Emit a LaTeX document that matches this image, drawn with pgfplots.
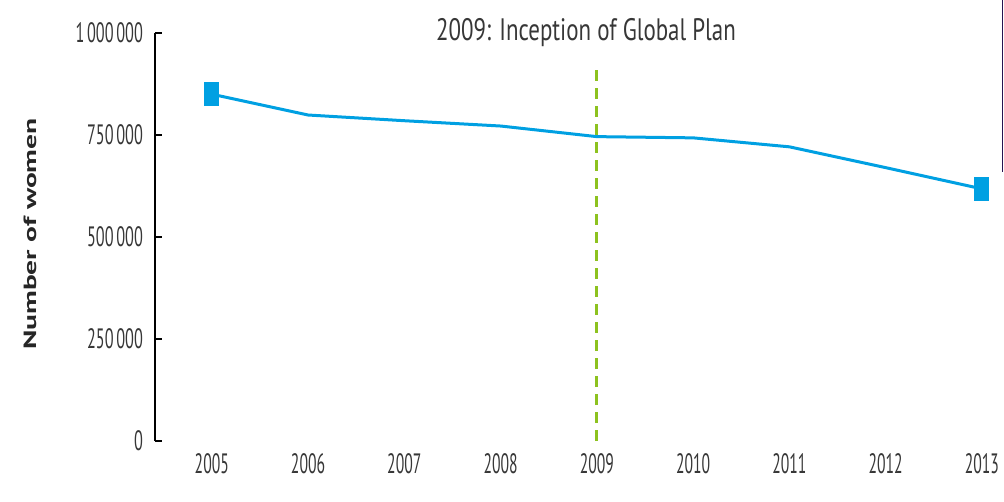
\documentclass[border=0pt]{standalone}
\usepackage{fontspec}
\setmainfont{PT Sans}
\usepackage{pgfplots}
\pgfplotsset{compat=1.18}
\definecolor{lineblue}{RGB}{0,160,226}
\definecolor{plangreen}{RGB}{141,194,31}
\definecolor{labelgray}{RGB}{55,55,55}
\definecolor{edgeline}{RGB}{40,20,80}
\begin{document}
\begin{tikzpicture}
\useasboundingbox (0,0) rectangle (1004pt,501pt);
\begin{axis}[
  at={(155pt,60pt)}, anchor=south west,
  scale only axis,
  width=851pt, height=408pt,
  xmin=2004.41, xmax=2013.25,
  ymin=0, ymax=1000000,
  scaled ticks=false,
  axis lines=left,
  axis line style={-, line width=1.6pt, black},
  x axis line style={draw=none},
  xtick={2005,2006,2007,2008,2009,2010,2011,2012,2013},
  xticklabels={2005,2006,2007,2008,2009,2010,2011,2012,2013},
  ytick={0,250000,500000,750000,1000000},
  yticklabels={0,250\,000,500\,000,750\,000,1\,000\,000},
  xtick style={draw=none},
  ytick style={line width=1.6pt, black},
  tick align=inside,
  major tick length=7pt,
  yticklabel style={inner sep=0pt, anchor=east, xshift=-12pt, xscale=0.58,
    font=\fontsize{28}{30}\selectfont, text=labelgray},
  xticklabel style={inner sep=0pt, anchor=north, yshift=-12pt, xscale=0.56,
    font=\fontsize{28}{30}\selectfont, text=labelgray},
  ylabel={Number of women},
  ylabel style={at={(rel axis cs:-0.147,0.507)}, anchor=center,
    font=\fontsize{29.5}{31}\selectfont\bfseries, text=black!85, yscale=0.6},
  clip=false,
]
\addplot[plangreen, line width=3pt, dash pattern=on 11pt off 7pt, forget plot]
  coordinates {(2009,0) (2009,921000)};
\addplot[lineblue, line width=3pt, line join=round, mark=square*,
  mark indices={1,9}, mark size=11.5pt, mark options={xscale=0.61, solid, fill=lineblue, draw=lineblue, line width=0pt}]
  coordinates {
  (2005,850000)
  (2006,799000)
  (2007,785000)
  (2008,772000)
  (2009,746000)
  (2010,743000)
  (2011,721000)
  (2012,670000)
  (2013,618000)
};
\end{axis}
\node[font=\fontsize{31}{33}\selectfont, text=labelgray, xscale=0.74] at (586pt,468pt) {2009: Inception of Global Plan};
\draw[edgeline, line width=1pt] (1002.5pt,501pt) -- (1002.5pt,329pt);
\end{tikzpicture}
\end{document}
